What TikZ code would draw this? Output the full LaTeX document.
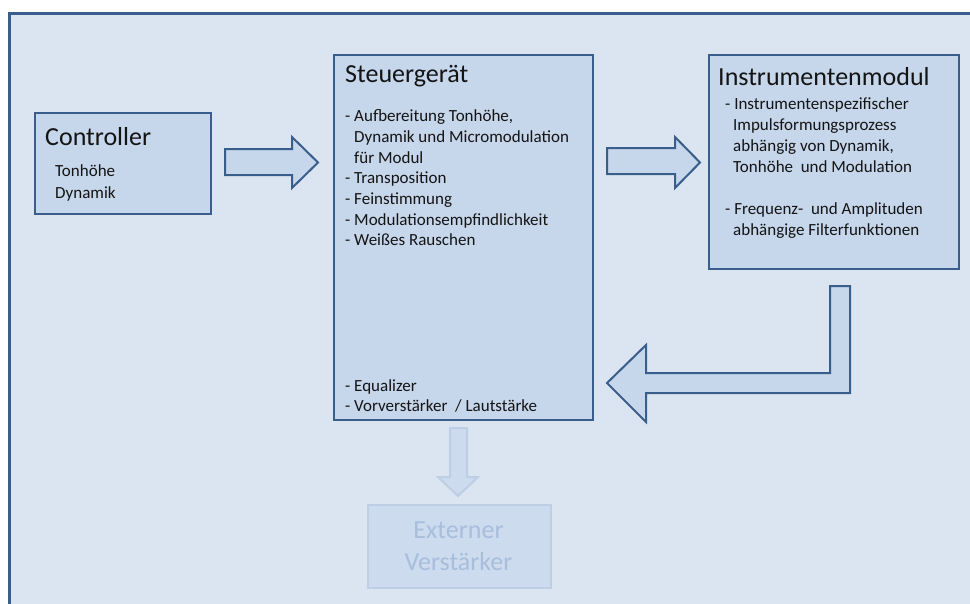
\documentclass[tikz,border=0pt]{standalone}
\usepackage{fontspec}
\setmainfont{Carlito}
\definecolor{bg}{RGB}{219,229,241}
\definecolor{boxfill}{RGB}{198,214,235}
\definecolor{bdr}{RGB}{58,94,140}
\definecolor{fadebdr}{RGB}{190,207,229}
\definecolor{fadefill}{RGB}{204,219,237}
\definecolor{fadetxt}{RGB}{168,190,220}
\definecolor{txtc}{RGB}{20,20,20}
\begin{document}
\begin{tikzpicture}[x=1pt,y=-1pt,
  box/.style={draw=bdr, fill=boxfill, line width=2.2pt, inner sep=0pt, anchor=north west},
  fadebox/.style={draw=fadebdr, fill=fadefill, line width=2pt, inner sep=0pt, anchor=north west},
  blockarrow/.style={draw=bdr, fill=boxfill, line width=2pt, line join=miter},
  fadearrow/.style={draw=fadebdr, fill=fadefill, line width=2pt, line join=miter},
  ttl/.style={anchor=base west, inner sep=0pt, text=txtc, font=\fontsize{26}{31}\selectfont},
  itm/.style={anchor=base west, inner sep=0pt, text=txtc, font=\fontsize{17}{20}\selectfont},
  fadetitle/.style={anchor=base, inner sep=0pt, text=fadetxt, font=\fontsize{26}{31}\selectfont}]
\useasboundingbox (0,0) rectangle (970,603);
\clip (0,0) rectangle (970,603);
\fill[white] (0,0) rectangle (970,603);
% outer frame
\draw[draw=bdr, fill=bg, line width=3pt] (9,13) rectangle (990,623);

% boxes
\node[box, minimum width=176pt, minimum height=101pt] (ctrl) at (34,112) {};
\node[box, minimum width=259pt, minimum height=365pt] (steu) at (333,54) {};
\node[box, minimum width=250pt, minimum height=214pt] (inst) at (708,54) {};
\node[fadebox, minimum width=183pt, minimum height=83pt] (ext) at (367,504) {};

% block arrows
\draw[blockarrow] (225,149) -- (292,149) -- (292,137) -- (318,162.5) -- (292,188) -- (292,175) -- (225,175) -- cycle;
\draw[blockarrow] (607,148) -- (675,148) -- (675,137) -- (700,162.5) -- (675,188) -- (675,174) -- (607,174) -- cycle;
\draw[blockarrow] (830,286) -- (850,286) -- (850,393) -- (646,393) -- (646,422) -- (607,383) -- (646,345) -- (646,373) -- (830,373) -- cycle;
\draw[fadearrow] (450,428) -- (467,428) -- (467,477) -- (478,477) -- (458,496) -- (438,477) -- (450,477) -- cycle;

% Controller
\node[ttl] (ctrlT) at (45,145) {Controller};
\node[itm] (c1) at (55,176) {Tonhöhe};
\node[itm] (c2) at (55,198) {Dynamik};

% Steuergeraet
\node[ttl] (steuT) at (345,82) {Steuergerät};
\node[itm] (s1) at (345,121) {- Aufbereitung Tonhöhe,};
\node[itm] (s2) at (354,142) {Dynamik und Micromodulation};
\node[itm] (s3) at (354,163) {für Modul};
\node[itm] (s4) at (345,183) {- Transposition};
\node[itm] (s5) at (345,204) {- Feinstimmung};
\node[itm] (s6) at (345,225) {- Modulationsempfindlichkeit};
\node[itm] (s7) at (345,245) {- Weißes Rauschen};
\node[itm] (s8) at (345,391) {- Equalizer};
\node[itm] (s9) at (345,411) {- Vorverstärker\ \ / Lautstärke};

% Instrumentenmodul
\node[ttl] (instT) at (718,85) {Instrumentenmodul};
\node[itm] (i1) at (725,109) {- Instrumentenspezifischer};
\node[itm] (i2) at (733,130) {Impulsformungsprozess};
\node[itm] (i3) at (733,151) {abhängig von Dynamik,};
\node[itm] (i4) at (733,172) {Tonhöhe\ \ und Modulation};
\node[itm] (i5) at (725,214) {- Frequenz-\ \ und Amplituden};
\node[itm] (i6) at (733,235) {abhängige Filterfunktionen};

% Externer Verstaerker
\node[fadetitle] (e1) at (458.5,538) {Externer};
\node[fadetitle] (e2) at (458.5,570) {Verstärker};
\end{tikzpicture}
\end{document}
